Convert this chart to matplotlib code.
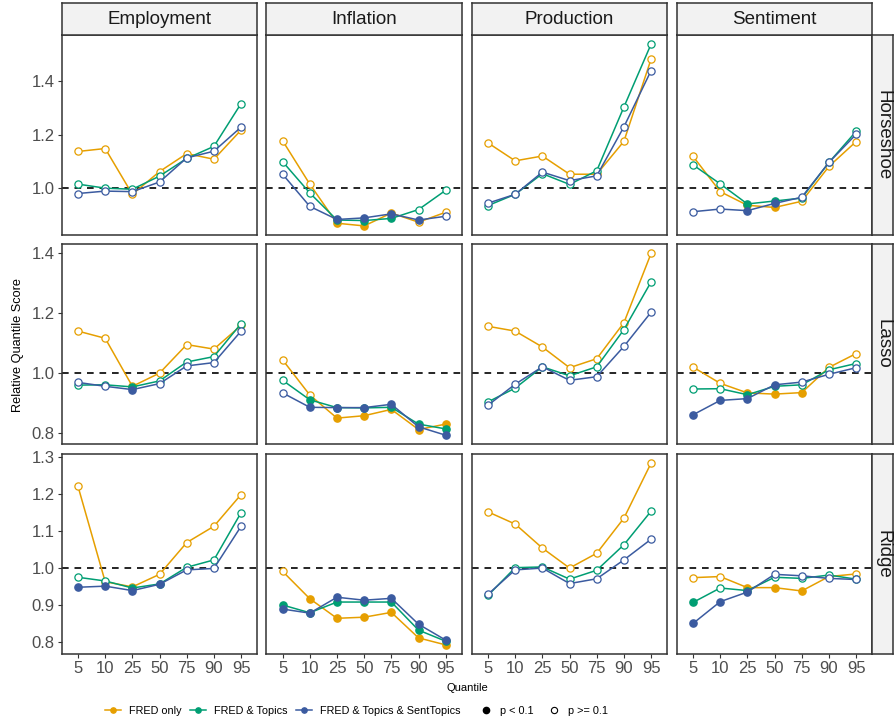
import numpy as np
import matplotlib
matplotlib.use("Agg")
import matplotlib.pyplot as plt
from matplotlib.lines import Line2D

plt.rcParams['font.family'] = ['Liberation Sans', 'DejaVu Sans']

quantiles = ["5", "10", "25", "50", "75", "90", "95"]
variables = ["Employment", "Inflation", "Production", "Sentiment"]
methods = ["Horseshoe", "Lasso", "Ridge"]
series = ["FRED only", "FRED & Topics", "FRED & Topics & SentTopics"]
colors = ["#E69F00", "#009E73", "#3B5BA0"]

# relative quantile scores, one list per series (FRED only, FRED & Topics, FRED & Topics & SentTopics)
horseshoe_employment = [[1.138, 1.149, 0.978, 1.063, 1.130, 1.109, 1.218],
                        [1.016, 1.001, 0.997, 1.046, 1.112, 1.157, 1.317],
                        [0.981, 0.990, 0.988, 1.024, 1.114, 1.139, 1.229]]
horseshoe_inflation = [[1.178, 1.016, 0.870, 0.860, 0.908, 0.874, 0.911],
                       [1.100, 0.983, 0.882, 0.880, 0.888, 0.921, 0.993],
                       [1.053, 0.933, 0.884, 0.890, 0.905, 0.882, 0.896]]
horseshoe_production = [[1.170, 1.103, 1.121, 1.053, 1.053, 1.176, 1.483],
                        [0.936, 0.978, 1.055, 1.015, 1.066, 1.304, 1.539],
                        [0.945, 0.978, 1.061, 1.029, 1.047, 1.230, 1.440]]
horseshoe_sentiment = [[1.120, 0.988, 0.937, 0.929, 0.952, 1.082, 1.175],
                       [1.088, 1.017, 0.942, 0.953, 0.964, 1.097, 1.213],
                       [0.913, 0.923, 0.917, 0.944, 0.967, 1.097, 1.202]]

lasso_employment = [[1.141, 1.117, 0.957, 1.001, 1.096, 1.081, 1.160],
                    [0.961, 0.962, 0.955, 0.975, 1.038, 1.056, 1.166],
                    [0.970, 0.957, 0.946, 0.966, 1.025, 1.036, 1.141]]
lasso_inflation = [[1.045, 0.928, 0.851, 0.859, 0.880, 0.813, 0.831],
                   [0.977, 0.912, 0.886, 0.885, 0.887, 0.831, 0.815],
                   [0.935, 0.887, 0.886, 0.886, 0.897, 0.822, 0.794]]
lasso_production = [[1.157, 1.141, 1.088, 1.019, 1.049, 1.169, 1.400],
                    [0.905, 0.951, 1.022, 0.992, 1.022, 1.146, 1.305],
                    [0.894, 0.964, 1.022, 0.977, 0.989, 1.090, 1.204]]
lasso_sentiment = [[1.021, 0.967, 0.935, 0.931, 0.936, 1.020, 1.066],
                   [0.948, 0.949, 0.929, 0.957, 0.962, 1.012, 1.033],
                   [0.862, 0.910, 0.916, 0.962, 0.971, 0.997, 1.019]]

ridge_employment = [[1.220, 0.962, 0.948, 0.982, 1.068, 1.112, 1.198],
                    [0.974, 0.964, 0.945, 0.956, 1.001, 1.021, 1.149],
                    [0.947, 0.950, 0.938, 0.955, 0.994, 0.998, 1.112]]
ridge_inflation = [[0.990, 0.916, 0.863, 0.866, 0.879, 0.810, 0.791],
                   [0.899, 0.878, 0.907, 0.907, 0.907, 0.831, 0.801],
                   [0.888, 0.877, 0.920, 0.912, 0.917, 0.847, 0.804]]
ridge_production = [[1.151, 1.118, 1.053, 0.999, 1.039, 1.134, 1.283],
                    [0.925, 1.000, 1.002, 0.969, 0.993, 1.062, 1.153],
                    [0.928, 0.994, 0.999, 0.957, 0.970, 1.021, 1.077]]
ridge_sentiment = [[0.973, 0.976, 0.946, 0.946, 0.937, 0.976, 0.983],
                   [0.906, 0.945, 0.938, 0.974, 0.971, 0.980, 0.969],
                   [0.849, 0.908, 0.934, 0.982, 0.978, 0.971, 0.968]]

# 1 = p < 0.1 (filled marker), 0 = p >= 0.1 (open marker)
horseshoe_employment_sig = [[0, 0, 0, 0, 0, 0, 0], [0, 0, 0, 0, 0, 0, 0], [0, 0, 0, 0, 0, 0, 0]]
horseshoe_inflation_sig = [[0, 0, 1, 1, 1, 0, 0], [0, 0, 1, 1, 1, 0, 0], [0, 0, 1, 1, 1, 1, 0]]
horseshoe_production_sig = [[0, 0, 0, 0, 0, 0, 0], [0, 0, 0, 0, 0, 0, 0], [0, 0, 0, 0, 0, 0, 0]]
horseshoe_sentiment_sig = [[0, 0, 1, 1, 0, 0, 0], [0, 0, 1, 1, 0, 0, 0], [0, 0, 1, 1, 0, 0, 0]]
lasso_employment_sig = [[0, 0, 0, 0, 0, 0, 0], [0, 0, 1, 0, 0, 0, 0], [0, 0, 1, 0, 0, 0, 0]]
lasso_inflation_sig = [[0, 0, 1, 1, 1, 1, 1], [0, 1, 1, 1, 1, 1, 1], [0, 1, 1, 1, 1, 1, 1]]
lasso_production_sig = [[0, 0, 0, 0, 0, 0, 0], [0, 0, 0, 0, 0, 0, 0], [0, 0, 0, 0, 0, 0, 0]]
lasso_sentiment_sig = [[0, 0, 1, 1, 1, 0, 0], [0, 0, 1, 1, 0, 0, 0], [1, 1, 1, 1, 0, 0, 0]]
ridge_employment_sig = [[0, 0, 0, 0, 0, 0, 0], [0, 0, 1, 1, 0, 0, 0], [1, 1, 1, 1, 0, 0, 0]]
ridge_inflation_sig = [[0, 1, 1, 1, 1, 1, 1], [1, 1, 1, 1, 1, 1, 1], [1, 1, 1, 1, 1, 1, 1]]
ridge_production_sig = [[0, 0, 0, 0, 0, 0, 0], [0, 0, 0, 0, 0, 0, 0], [0, 0, 0, 0, 0, 0, 0]]
ridge_sentiment_sig = [[0, 0, 1, 1, 1, 0, 0], [1, 0, 1, 0, 0, 0, 0], [1, 1, 1, 0, 0, 0, 0]]

panels = [[horseshoe_employment, horseshoe_inflation, horseshoe_production, horseshoe_sentiment],
          [lasso_employment, lasso_inflation, lasso_production, lasso_sentiment],
          [ridge_employment, ridge_inflation, ridge_production, ridge_sentiment]]
panels_sig = [[horseshoe_employment_sig, horseshoe_inflation_sig, horseshoe_production_sig, horseshoe_sentiment_sig],
              [lasso_employment_sig, lasso_inflation_sig, lasso_production_sig, lasso_sentiment_sig],
              [ridge_employment_sig, ridge_inflation_sig, ridge_production_sig, ridge_sentiment_sig]]
row_ticks = [[1.0, 1.2, 1.4], [0.8, 1.0, 1.2, 1.4], [0.8, 0.9, 1.0, 1.1, 1.2, 1.3]]

W, H = 894, 726
fig = plt.figure(figsize=(W / 100, H / 100), dpi=100)

col_left = [61.7, 266.3, 471.7, 676.7]
col_w = 195.7
row_top = [35, 244.3, 454]
row_h = 200
strip_h = 31.7
strip_w = 21
border = "#333333"
strip_fill = "#F2F2F2"
x = np.arange(1, 8)

def px_axes(l, t, w, h):
    return fig.add_axes([l / W, 1 - (t + h) / H, w / W, h / H])

def style_strip(st):
    st.set_facecolor(strip_fill)
    st.set_xticks([])
    st.set_yticks([])
    for sp in st.spines.values():
        sp.set_color(border)
        sp.set_linewidth(1.1)

for r in range(3):
    vals_all = np.concatenate([np.ravel(p) for p in panels[r]])
    lo, hi = vals_all.min(), vals_all.max()
    pad = (hi - lo) * 0.05
    for c in range(4):
        ax = px_axes(col_left[c], row_top[r], col_w, row_h)
        ax.axhline(1.0, color="black", lw=1.2, ls=(0, (4, 3.5)), zorder=1)
        for s in range(3):
            vals = np.array(panels[r][c][s])
            sig = np.array(panels_sig[r][c][s]).astype(bool)
            ax.plot(x, vals, color=colors[s], lw=1.1, zorder=2 + s)
            ax.plot(x[sig], vals[sig], 'o', color=colors[s], markersize=5.2, zorder=2 + s)
            ax.plot(x[~sig], vals[~sig], 'o', mfc="white", mec=colors[s], mew=0.9,
                    markersize=5.2, zorder=2 + s)
        ax.set_xlim(0.4, 7.6)
        ax.set_ylim(lo - pad, hi + pad)
        ax.set_xticks(x)
        ax.set_yticks(row_ticks[r])
        ax.tick_params(colors="#333333", labelcolor="#4D4D4D", labelsize=12,
                       length=3, width=0.8, pad=2)
        if r < 2:
            ax.set_xticklabels([])
            ax.tick_params(axis="x", length=0)
        else:
            ax.set_xticklabels(quantiles)
        if c > 0:
            ax.set_yticklabels([])
            ax.tick_params(axis="y", length=0)
        else:
            ax.set_yticklabels(["%.1f" % v for v in row_ticks[r]])
        for sp in ax.spines.values():
            sp.set_color(border)
            sp.set_linewidth(1.1)

        if r == 0:
            st = px_axes(col_left[c], row_top[0] - strip_h, col_w, strip_h)
            style_strip(st)
            st.text(0.5, 0.48, variables[c], ha="center", va="center", fontsize=13.5,
                    color="#1A1A1A", transform=st.transAxes)
    st = px_axes(col_left[3] + col_w, row_top[r], strip_w, row_h)
    style_strip(st)
    st.text(0.5, 0.5, methods[r], ha="center", va="center", rotation=-90, fontsize=13.5,
            color="#1A1A1A", transform=st.transAxes)

fig.text(18 / W, 1 - 345 / H, "Relative Quantile Score", rotation=90, ha="center",
         va="center", fontsize=9.2)
fig.text(467 / W, 1 - 688 / H, "Quantile", ha="center", va="center", fontsize=8)

series_handles = [Line2D([], [], color=col, lw=1.1, marker='o', markersize=3.8) for col in colors]
fig.legend(series_handles, series, loc="center left", bbox_to_anchor=(105 / W, 1 - 711 / H),
           ncol=3, frameon=False, fontsize=7.8, handlelength=1.5,
           handletextpad=0.7, columnspacing=0.8, borderpad=0, borderaxespad=0)
p_handles = [Line2D([], [], ls="none", marker='o', color="black", markersize=4.5),
             Line2D([], [], ls="none", marker='o', mfc="white", mec="black", mew=0.8, markersize=4.5)]
fig.legend(p_handles, ["p < 0.1", "p >= 0.1"], loc="center left", bbox_to_anchor=(480 / W, 1 - 711 / H),
           ncol=2, frameon=False, fontsize=7.8, handlelength=1.1,
           handletextpad=0.7, columnspacing=1.4, borderpad=0, borderaxespad=0)

fig.savefig("out.png", dpi=100)
